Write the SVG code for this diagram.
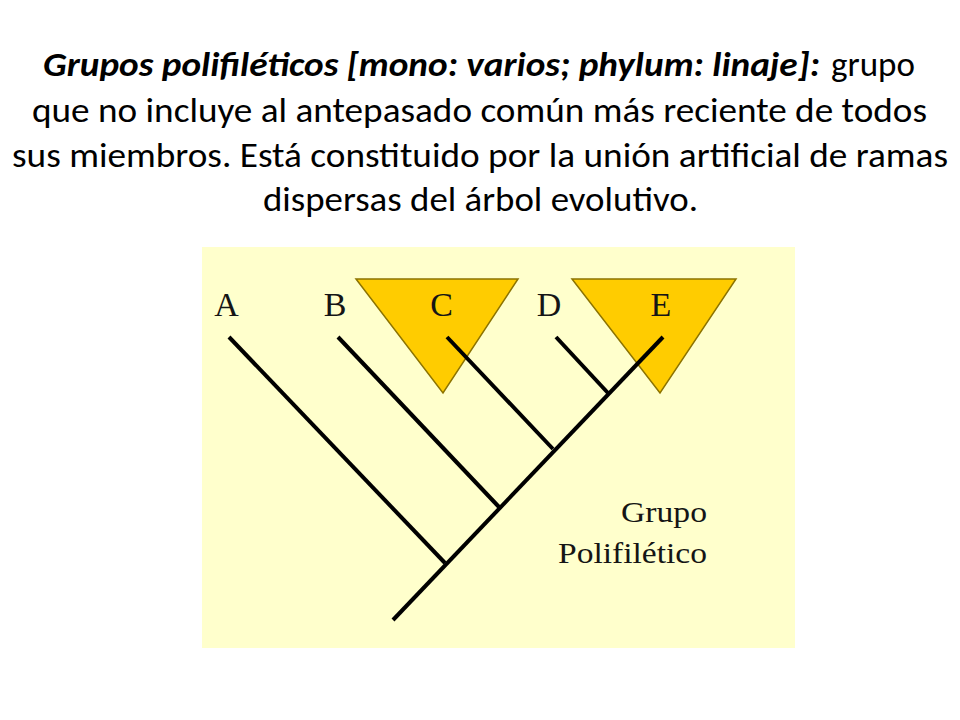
<svg xmlns="http://www.w3.org/2000/svg" width="960" height="720" viewBox="0 0 960 720">
<style>
.title{font-family:Carlito,Lato,"Liberation Sans",sans-serif;font-size:35px;fill:#000}
.bi{font-weight:bold;font-style:italic}
.lbl{font-family:"Liberation Serif","Times New Roman",serif;font-size:34px;fill:#151515;text-anchor:middle}
.cap{font-family:"Liberation Serif","Times New Roman",serif;font-size:30px;fill:#151515}
.tri{fill:#FFCC00;stroke:#8C7300;stroke-width:1.5;stroke-linejoin:miter}
.br{stroke:#000;stroke-width:4;stroke-linecap:butt;fill:none}
</style>
<rect width="960" height="720" fill="#fff"/>
<g id="title">
<text class="title bi" x="43" y="76" textLength="777" lengthAdjust="spacingAndGlyphs">Grupos polifiléticos [mono: varios; phylum: linaje]:</text>
<text class="title" x="831" y="76" textLength="84" lengthAdjust="spacingAndGlyphs">grupo</text>
<text class="title" x="32" y="122" textLength="895" lengthAdjust="spacingAndGlyphs">que no incluye al antepasado común más reciente de todos</text>
<text class="title" x="12" y="167" textLength="936" lengthAdjust="spacingAndGlyphs">sus miembros. Está constituido por la unión artificial de ramas</text>
<text class="title" x="263" y="211" textLength="435" lengthAdjust="spacingAndGlyphs">dispersas del árbol evolutivo.</text>
</g>
<rect id="panel" x="202" y="247" width="593" height="401" fill="#FFFFCC"/>
<g id="cladeC"><polygon class="tri" points="356,279 518,279 443,393"/></g>
<g id="cladeE"><polygon class="tri" points="572,279 736,279 660,393"/></g>
<g id="connectors">
<line class="br" x1="393" y1="620" x2="663" y2="337"/>
<line class="br" x1="229" y1="337" x2="445" y2="563"/>
<line class="br" x1="338" y1="337" x2="499" y2="507"/>
<line class="br" x1="447" y1="337" x2="553" y2="449"/>
<line class="br" x1="556" y1="337" x2="608" y2="393"/>
</g>
<g id="nodeA"><text class="lbl" x="226.5" y="316">A</text></g>
<g id="nodeB"><text class="lbl" x="335" y="316">B</text></g>
<g id="nodeC"><text class="lbl" x="441.5" y="316">C</text></g>
<g id="nodeD"><text class="lbl" x="549" y="316">D</text></g>
<g id="nodeE"><text class="lbl" x="661" y="316">E</text></g>
<g id="caption">
<text class="cap" x="621" y="522" textLength="86" lengthAdjust="spacingAndGlyphs">Grupo</text>
<text class="cap" x="558" y="563" textLength="149" lengthAdjust="spacingAndGlyphs">Polifilético</text>
</g>
</svg>
